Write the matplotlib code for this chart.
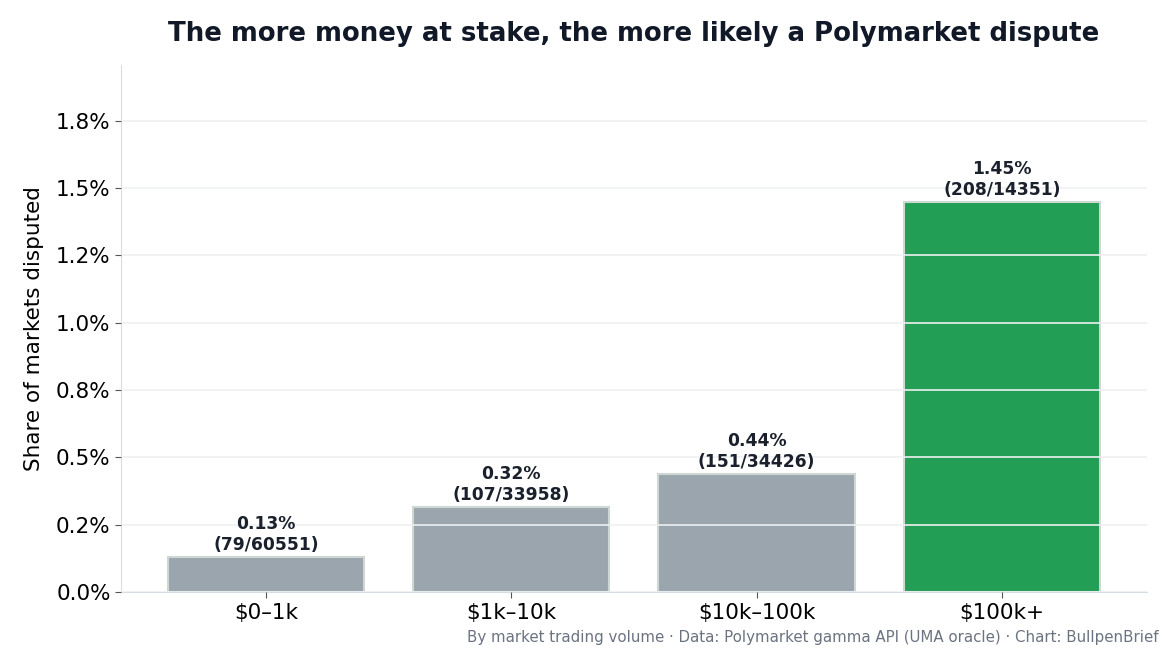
import numpy as np
import matplotlib
matplotlib.use("Agg")
import matplotlib.pyplot as plt
from matplotlib.ticker import FuncFormatter

buckets = ["$0–1k", "$1k–10k", "$10k–100k", "$100k+"]
disputed = [79, 107, 151, 208]
totals = [60551, 33958, 34426, 14351]

share = [100 * d / t for d, t in zip(disputed, totals)]
colors = ["#9aa5ae", "#9aa5ae", "#9aa5ae", "#229e55"]

fig, ax = plt.subplots(figsize=(11.7, 6.5), dpi=100)
fig.subplots_adjust(left=0.1035, right=0.98, top=0.9, bottom=0.089)

x = np.arange(len(buckets))
bars = ax.bar(x, share, width=0.8, color=colors, edgecolor="#cfd7d2", linewidth=1.5, zorder=2)

for b, s, d, t in zip(bars, share, disputed, totals):
    ax.text(b.get_x() + b.get_width() / 2, b.get_height() + 0.012,
            f"{s:.2f}%\n({d}/{t})", ha="center", va="bottom",
            fontsize=12.3, fontweight="bold", color="#1a202c")

ax.set_ylim(0, 1.957)
ax.set_yticks(np.arange(0, 2.0, 0.25))
ax.yaxis.set_major_formatter(FuncFormatter(lambda v, p: f"{v:.1f}%"))
ax.set_xticks(x)
ax.set_xticklabels(buckets)
ax.tick_params(labelsize=15.5, colors="#000000")
ax.tick_params(axis="both", color="#555555", length=4)

ax.grid(axis="y", color="#eef0f2", linewidth=1.2, zorder=3)
ax.set_axisbelow(False)
for sp in ["top", "right"]:
    ax.spines[sp].set_visible(False)
for sp in ["left", "bottom"]:
    ax.spines[sp].set_color("#d8dde3")

ax.set_ylabel("Share of markets disputed", fontsize=15.5, labelpad=9)
ax.set_title("The more money at stake, the more likely a Polymarket dispute",
             fontsize=18.7, fontweight="bold", color="#111827", pad=17)

fig.text(0.99, 0.007, "By market trading volume · Data: Polymarket gamma API (UMA oracle) · Chart: BullpenBrief",
         ha="right", va="bottom", fontsize=10.8, color="#6b7280")

fig.savefig("out.png")
